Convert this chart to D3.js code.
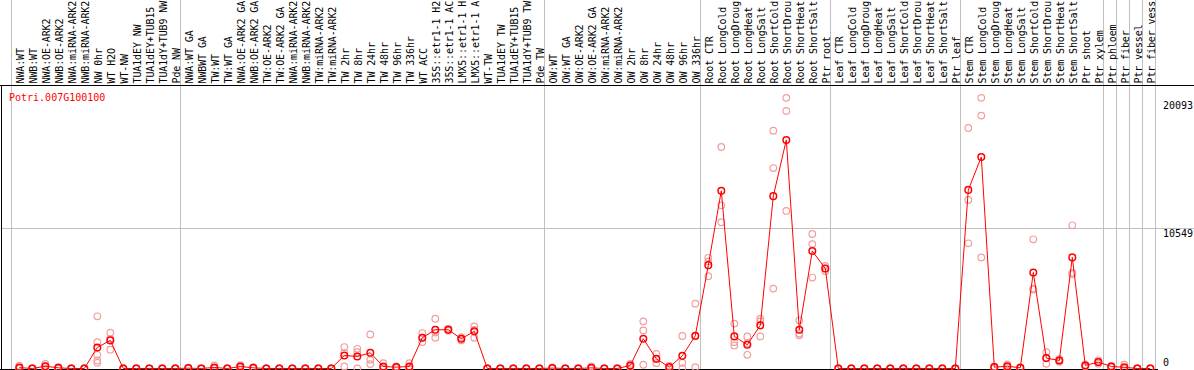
<!DOCTYPE html>
<html>
<head>
<meta charset="utf-8">
<script src="https://cdn.jsdelivr.net/npm/d3@7"></script>
<style>
  body { margin: 0; background: #fff; }
  svg { display: block; }
  text { font-family: "DejaVu Sans Mono", monospace; font-size: 10px; }
  .sample { letter-spacing: -0.12px; }
</style>
</head>
<body>
<script>
(function(){

  //pseudo-global variables
  var geneName = "Potri.007G100100";

  //sample names as they show in the header (cut to 14 characters there)
  var sampleLabels = ["NWA:WT", "NWB:WT", "NWA:OE-ARK2", "NWB:OE-ARK2", "NWA:miRNA-ARK2", "NWB:miRNA-ARK2",
    "NW 0hr", "WT H2O", "WT-NW", "TUA1dEY NW", "TUA1dEY+TUB15", "TUA1dY+TUB9 NW", "Pde NW",
    "NWA:WT GA", "NWBWT GA", "TW:WT", "TW:WT GA", "NWA:OE-ARK2 GA", "NWB:OE-ARK2 GA", "TW:OE-ARK2",
    "TW:OE-ARK2 GA", "NWA:miRNA-ARK2", "NWB:miRNA-ARK2", "TW:miRNA-ARK2", "TW:miRNA-ARK2",
    "TW 2hr", "TW 8hr", "TW 24hr", "TW 48hr", "TW 96hr", "TW 336hr", "WT ACC",
    "35S::etr1-1 H2", "35S::etr1-1 AC", "LMX5::etr1-1 H", "LMX5::etr1-1 A",
    "WT-TW", "TUA1dEY TW", "TUA1dEY+TUB15", "TUA1dY+TUB9 TW", "Pde TW",
    "OW:WT", "OW:WT GA", "OW:OE-ARK2", "OW:OE-ARK2 GA", "OW:miRNA-ARK2", "OW:miRNA-ARK2",
    "OW 2hr", "OW 8hr", "OW 24hr", "OW 48hr", "OW 96hr", "OW 336hr",
    "Root CTR", "Root LongCold", "Root LongDroug", "Root LongHeat", "Root LongSalt",
    "Root ShortCold", "Root ShortDrou", "Root ShortHeat", "Root ShortSalt", "Ptr root",
    "Leaf CTR", "Leaf LongCold", "Leaf LongDroug", "Leaf LongHeat", "Leaf LongSalt",
    "Leaf ShortCold", "Leaf ShortDrou", "Leaf ShortHeat", "Leaf ShortSalt", "Ptr leaf",
    "Stem CTR", "Stem LongCold", "Stem LongDroug", "Stem LongHeat", "Stem LongSalt",
    "Stem ShortCold", "Stem ShortDrou", "Stem ShortHeat", "Stem ShortSalt", "Ptr shoot",
    "Ptr xylem", "Ptr phloem", "Ptr fiber", "Ptr vessel", "Ptr fiber vess"];

  //mean expression per sample
  var meanValues = [70, 0, 170, 50, 0, 0, 1580, 2110, 0, 0, 0, 0, 0,
    25, 0, 80, 0, 150, 50, 0, 0, 0, 0, 0, 0,
    980, 900, 1180, 150, 100, 150, 2310, 2910, 2910, 2230, 2790,
    0, 0, 0, 0, 0,
    30, 0, 0, 50, 0, 0, 230, 2230, 730, 100, 950, 2460,
    7760, 13340, 2410, 1780, 3240, 12940, 17160, 2910, 8820, 7510,
    0, 0, 0, 0, 0, 0, 0, 0, 0, 0,
    13410, 15880, 100, 170, 50, 7210, 780, 600, 8340, 230,
    480, 150, 90, 0, 0];

  //individual replicates per sample
  var replicateValues = [[210, 0, 0], [0, 0, 0], [350, 160, 0], [100, 50, 0], [0, 0, 0], [0, 0, 0],
    [3920, 1980, 1030, 600, 430], [2690, 2230, 1410], [0, 0, 0], [0, 0, 0], [0, 0, 0], [0, 0, 0], [0, 0, 0],
    [60, 15, 0], [0, 0, 0], [230, 10, 0], [0, 0, 0], [250, 150, 50], [100, 50, 0], [0, 0, 0],
    [0, 0, 0], [0, 0, 0], [0, 0, 0], [0, 0, 0], [0, 0, 0],
    [1610, 1180, 150], [1480, 1220, 0], [2560, 650, 330], [400, 50, 0], [150, 100, 50], [400, 50, 0],
    [2660, 2310, 1980], [3740, 2700, 2310], [3000, 2900, 2830], [2350, 2230, 2110], [3160, 2900, 2310],
    [0, 0, 0], [0, 0, 0], [0, 0, 0], [0, 0, 0], [0, 0, 0],
    [90, 0, 0], [0, 0, 0], [0, 0, 0], [150, 0, 0], [0, 0, 0], [0, 0, 0],
    [350, 230, 110], [3540, 2860, 280], [1100, 700, 400], [200, 100, 0], [2440, 430, 0], [4870, 2410, 100],
    [8310, 8040, 6930], [16630, 12250, 10980], [3370, 1980, 1730], [2410, 1900, 1030], [3740, 3560, 2410],
    [17860, 15050, 6000], [20320, 19340, 11830], [3620, 2490, 2620], [10100, 9340, 6830], [7700, 7510, 7320],
    [0, 0, 0], [0, 0, 0], [0, 0, 0], [0, 0, 0], [0, 0, 0], [0, 0, 0], [0, 0, 0], [0, 0, 0], [0, 0, 0], [0, 0, 0],
    [18060, 12660, 9400], [20320, 18990, 8340], [150, 100, 50], [300, 150, 60], [100, 50, 0],
    [9700, 5930, 6000], [1230, 780, 350], [700, 600, 500], [10750, 7180, 7090], [300, 230, 160],
    [600, 480, 360], [200, 150, 100], [280, 0, 0], [0, 0, 0], [0, 0, 0]];

  var yTickValues = [0, 10549, 20093]; //labels on the right
  var groupEnds = [-1, 12, 40, 52, 62, 72, 83, 84, 85, 86, 87]; //last sample of each group

  window.onload = drawChart(); //begin script when window loads

  function drawChart(){
    var width = 1194,
        height = 370,
        headerBottom = 85;

    var svg = d3.select("body")
      .append("svg")
      .attr("width", width)
      .attr("height", height);

    //scales
    var x = d3.scaleLinear()
      .domain([0, sampleLabels.length - 1])
      .range([19.3, 1150.3]);

    var y = d3.scaleLinear()
      .domain([0, 10549])
      .range([368.5, 228]);

    //vertical group separators
    svg.selectAll(".vgrid")
      .data(groupEnds)
      .enter()
      .append("line")
      .attr("class", "vgrid")
      .attr("x1", function(d){ return Math.round(x(d) + 4.7) + 0.5; })
      .attr("x2", function(d){ return Math.round(x(d) + 4.7) + 0.5; })
      .attr("y1", 0)
      .attr("y2", height)
      .style("stroke", "#c0c0c0")
      .style("stroke-width", 1);

    //horizontal grid at middle tick
    svg.append("line")
      .attr("x1", 1)
      .attr("x2", width)
      .attr("y1", Math.round(y(yTickValues[1])) + 0.5)
      .attr("y2", Math.round(y(yTickValues[1])) + 0.5)
      .style("stroke", "#c0c0c0");

    //frame lines
    svg.append("line")
      .attr("x1", 0).attr("x2", width)
      .attr("y1", headerBottom + 0.5).attr("y2", headerBottom + 0.5)
      .style("stroke", "#000");
    svg.append("line")
      .attr("x1", 1.5).attr("x2", 1.5)
      .attr("y1", headerBottom).attr("y2", height)
      .style("stroke", "#000");
    svg.append("line")
      .attr("x1", 0).attr("x2", 1158)
      .attr("y1", 369.5).attr("y2", 369.5)
      .style("stroke", "#000");

    //sample labels, rotated
    svg.selectAll(".sample")
      .data(sampleLabels)
      .enter()
      .append("text")
      .attr("class", "sample")
      .attr("transform", function(d, i){
        return "translate(" + (x(i) + 4.6) + ",83.5) rotate(-90)";
      })
      .style("fill", "#000")
      .text(function(d){ return d; });

    //gene name
    svg.append("text")
      .attr("x", 9)
      .attr("y", 101)
      .style("fill", "#ff0000")
      .text(geneName);

    //value labels on the right
    svg.selectAll(".ytick")
      .data(yTickValues)
      .enter()
      .append("text")
      .attr("class", "ytick")
      .attr("x", 1163)
      .attr("y", function(d){ return Math.min(y(d) + 8.5, 366); })
      .style("fill", "#000")
      .text(function(d){ return d; });

    //replicate points
    var reps = [];
    replicateValues.forEach(function(arr, i){
      arr.forEach(function(v){ reps.push({i: i, v: v}); });
    });
    svg.selectAll(".rep")
      .data(reps)
      .enter()
      .append("circle")
      .attr("class", "rep")
      .attr("cx", function(d){ return x(d.i); })
      .attr("cy", function(d){ return y(d.v); })
      .attr("r", 3.3)
      .style("fill", "none")
      .style("stroke", "#f0a0a0")
      .style("stroke-width", 1.2);

    //mean line
    var line = d3.line()
      .x(function(d, i){ return x(i); })
      .y(function(d){ return y(d); });

    svg.append("path")
      .datum(meanValues)
      .attr("d", line)
      .style("fill", "none")
      .style("stroke", "#ff0000")
      .style("stroke-width", 1);

    //mean points
    svg.selectAll(".mean")
      .data(meanValues)
      .enter()
      .append("circle")
      .attr("class", "mean")
      .attr("cx", function(d, i){ return x(i); })
      .attr("cy", function(d){ return y(d); })
      .attr("r", 3.3)
      .style("fill", "none")
      .style("stroke", "#ff0000")
      .style("stroke-width", 1.5);
  };
})();
</script>
</body>
</html>
